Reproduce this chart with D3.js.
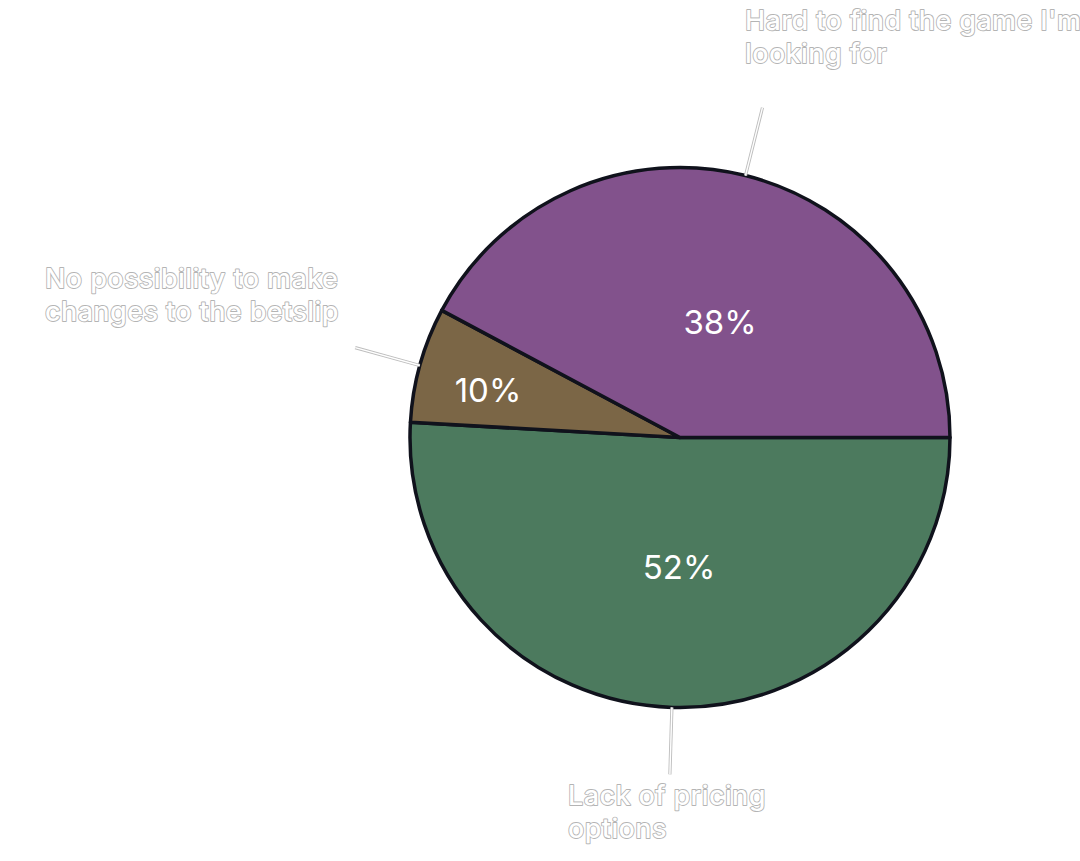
<!DOCTYPE html>
<html>
<head>
<meta charset="utf-8">
<script src="https://cdn.jsdelivr.net/npm/d3@7"></script>
<style>
  html, body { margin: 0; padding: 0; background: #fff; }
  svg { display: block; }
</style>
</head>
<body>
<svg id="chart" width="1080" height="861"></svg>
<script>
// Data (slice sizes as read from the drawn arcs; labels as printed)
const categories = ["Lack of pricing options", "No possibility to make changes to the betslip", "Hard to find the game I'm looking for"];
const sliceValues = [50.9, 6.9, 42.2];
const percentLabels = ["52%", "10%", "38%"];
const outerLabelLines = [
  ["Lack of pricing", "options"],
  ["No possibility to make", "changes to the betslip"],
  ["Hard to find the game I'm", "looking for"]
];
const colors = ["#4c7a5e", "#7b6646", "#82528c"];

const svg = d3.select("#chart");
const cx = 680, cy = 437.5, R = 270;
const g = svg.append("g").attr("transform", `translate(${cx},${cy})`);

const pie = d3.pie().sort(null).value(d => d)
  .startAngle(Math.PI / 2).endAngle(Math.PI / 2 + 2 * Math.PI);
const arcs = pie(sliceValues);
const arc = d3.arc().innerRadius(0).outerRadius(R);

g.selectAll("path.slice").data(arcs).join("path")
  .attr("class", "slice")
  .attr("d", arc)
  .attr("fill", (d, i) => colors[i])
  .attr("stroke", "#10121c")
  .attr("stroke-width", 3.5)
  .attr("stroke-linejoin", "round");

// percentage labels inside
const innerPos = [[-1, 129], [-192, -48], [40, -116]];
g.selectAll("text.pct").data(arcs).join("text")
  .attr("class", "pct")
  .attr("x", (d, i) => innerPos[i][0])
  .attr("y", (d, i) => innerPos[i][1])
  .attr("text-anchor", "middle")
  .attr("dominant-baseline", "central")
  .attr("font-family", "Inter, 'Noto Sans', sans-serif")
  .attr("font-size", 33)
  .attr("fill", "#ffffff")
  .text((d, i) => percentLabels[i]);

// leader lines: start on arc at a given angle, extend outward
const leaders = [
  { a: Math.PI + 0.03, len: 67 },
  { a: Math.PI * 1.5 + 0.27, len: 67 },
  { a: 0.245, len: 70 }
];
const leaderG = svg.append("g");
leaders.forEach(l => {
  const x1 = cx + R * Math.sin(l.a), y1 = cy - R * Math.cos(l.a);
  const x2 = cx + (R + l.len) * Math.sin(l.a), y2 = cy - (R + l.len) * Math.cos(l.a);
  leaderG.append("line").attr("x1", x1).attr("y1", y1).attr("x2", x2).attr("y2", y2)
    .attr("stroke", "#bdbdbd").attr("stroke-width", 3.2);
  leaderG.append("line").attr("x1", x1).attr("y1", y1).attr("x2", x2).attr("y2", y2)
    .attr("stroke", "#ffffff").attr("stroke-width", 1.4);
});

// outer labels
const outerPos = [[568, 805], [45, 288], [745, 30]];
const lineH = 33;
outerLabelLines.forEach((lines, i) => {
  const t = svg.append("text")
    .attr("x", outerPos[i][0]).attr("y", outerPos[i][1])
    .attr("font-family", "Inter, 'Noto Sans', sans-serif")
    .attr("font-size", 27)
    .attr("font-weight", 500)
    .attr("letter-spacing", 0.4)
    .attr("fill", "#ffffff")
    .attr("stroke", "#b4b4b4")
    .attr("stroke-width", 1.8)
    .attr("paint-order", "stroke")
    .attr("stroke-linejoin", "round");
  lines.forEach((ln, j) => {
    t.append("tspan").attr("x", outerPos[i][0]).attr("dy", j === 0 ? 0 : lineH).text(ln);
  });
});
</script>
</body>
</html>
